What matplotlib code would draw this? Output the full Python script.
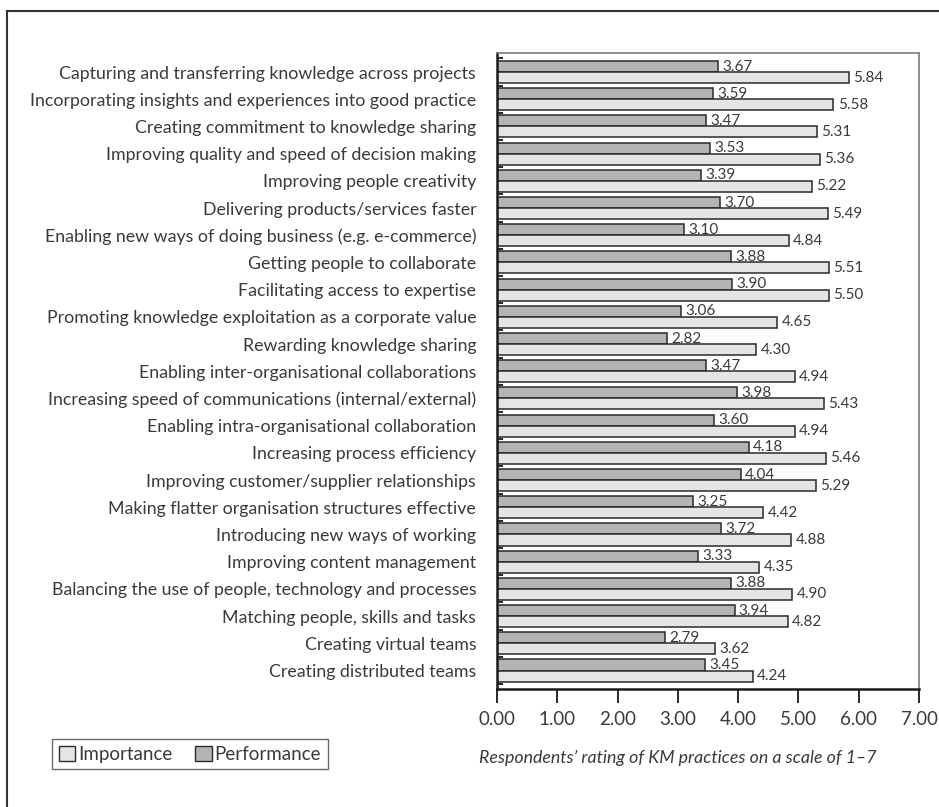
import matplotlib.pyplot as plt
import numpy as np
from matplotlib.lines import Line2D
from matplotlib.patches import Patch

plt.rcParams['font.family'] = ['Lato', 'DejaVu Sans']

practices = [
    "Capturing and transferring knowledge across projects",
    "Incorporating insights and experiences into good practice",
    "Creating commitment to knowledge sharing",
    "Improving quality and speed of decision making",
    "Improving people creativity",
    "Delivering products/services faster",
    "Enabling new ways of doing business (e.g. e-commerce)",
    "Getting people to collaborate",
    "Facilitating access to expertise",
    "Promoting knowledge exploitation as a corporate value",
    "Rewarding knowledge sharing",
    "Enabling inter-organisational collaborations",
    "Increasing speed of communications (internal/external)",
    "Enabling intra-organisational collaboration",
    "Increasing process efficiency",
    "Improving customer/supplier relationships",
    "Making flatter organisation structures effective",
    "Introducing new ways of working",
    "Improving content management",
    "Balancing the use of people, technology and processes",
    "Matching people, skills and tasks",
    "Creating virtual teams",
    "Creating distributed teams",
]
performance = [3.67, 3.59, 3.47, 3.53, 3.39, 3.70, 3.10, 3.88, 3.90, 3.06, 2.82, 3.47,
               3.98, 3.60, 4.18, 4.04, 3.25, 3.72, 3.33, 3.88, 3.94, 2.79, 3.45]
importance = [5.84, 5.58, 5.31, 5.36, 5.22, 5.49, 4.84, 5.51, 5.50, 4.65, 4.30, 4.94,
              5.43, 4.94, 5.46, 5.29, 4.42, 4.88, 4.35, 4.90, 4.82, 3.62, 4.24]
x_ticks = [0, 1, 2, 3, 4, 5, 6, 7]

TEXT = '#3a3a3a'
IMP_COLOR = '#e5e5e5'
PERF_COLOR = '#b4b4b4'
EDGE = '#2a2a2a'

W, H = 939, 807
fig = plt.figure(figsize=(W / 100, H / 100), dpi=100)
ax = fig.add_axes([497 / W, 1 - 689 / H, (919 - 497) / W, (689 - 53) / H])

y = np.arange(len(practices))
bh = 0.405
ax.barh(y - bh / 2, performance, height=bh, color=PERF_COLOR, edgecolor=EDGE, linewidth=1.1)
ax.barh(y + bh / 2, importance, height=bh, color=IMP_COLOR, edgecolor=EDGE, linewidth=1.1)

for yi, p, im in zip(y, performance, importance):
    ax.text(p + 0.07, yi - bh / 2, f"{p:.2f}", va='center', ha='left', fontsize=11, color=TEXT)
    ax.text(im + 0.07, yi + bh / 2, f"{im:.2f}", va='center', ha='left', fontsize=11, color=TEXT)

ax.set_xlim(0, 7)
ax.set_ylim(22.68, -0.70)
ax.set_xticks(x_ticks)
ax.set_xticklabels([f"{v:.2f}" for v in x_ticks], fontsize=13.5, color=TEXT)
ax.set_yticks(y)
ax.set_yticklabels(practices, fontsize=12.8, color=TEXT)
ax.tick_params(axis='y', length=0, pad=15)
ax.tick_params(axis='x', length=10, width=1.4, color=EDGE, pad=6, direction='out')
ax.set_yticks(np.arange(-0.5, 23, 1), minor=True)
ax.tick_params(axis='y', which='minor', length=4, width=1.4, color=EDGE, direction='in')

for side in ('left', 'bottom'):
    ax.spines[side].set_linewidth(1.8)
    ax.spines[side].set_color('#1a1a1a')
for side in ('top', 'right'):
    ax.spines[side].set_linewidth(1.2)
    ax.spines[side].set_color('#7a7a7a')

handles = [Patch(facecolor=IMP_COLOR, edgecolor=EDGE, linewidth=1.0, label='Importance'),
           Patch(facecolor=PERF_COLOR, edgecolor=EDGE, linewidth=1.0, label='Performance')]
leg = fig.legend(handles=handles, loc='upper left', bbox_to_anchor=(52 / W, 1 - 739 / H),
                 ncol=2, fontsize=13.5, frameon=True, fancybox=False, handlelength=0.9,
                 handleheight=0.9, handletextpad=0.15, columnspacing=1.2,
                 borderpad=0.35, borderaxespad=0, labelcolor=TEXT)
leg.get_frame().set_edgecolor('#444444')
leg.get_frame().set_linewidth(1.0)

fig.text(678 / W, 1 - 758 / H, "Respondents\u2019 rating of KM practices on a scale of 1\u20137",
         ha='center', va='center', fontsize=12.8, style='italic', color=TEXT)

# outer frame: left and top edges only
fig.add_artist(Line2D([7 / W, 7 / W], [0, 1 - 11 / H], color='#333333', linewidth=1.5))
fig.add_artist(Line2D([7 / W, 938 / W], [1 - 11 / H, 1 - 11 / H], color='#333333', linewidth=1.5))

fig.savefig('out.png', dpi=100)
